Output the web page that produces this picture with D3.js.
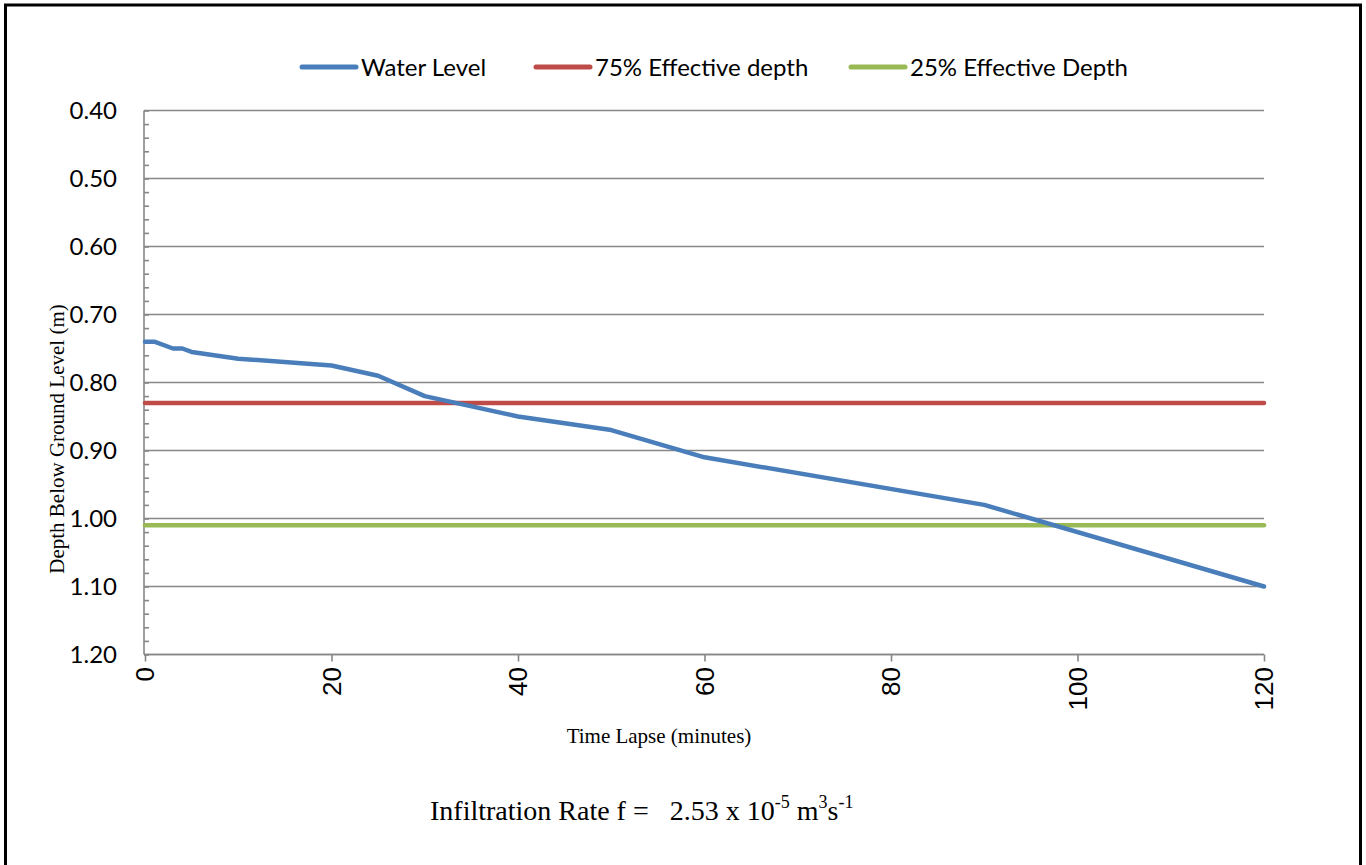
<!DOCTYPE html>
<html>
<head>
<meta charset="utf-8">
<script src="https://cdn.jsdelivr.net/npm/d3@7"></script>
<style>
body { margin: 0; background: #fff; }
</style>
</head>
<body>
<div id="chart"></div>
<script>
// ---------------------- data ---------------------
var timeMin = [0, 1, 3, 4, 5, 10, 20, 25, 30, 40, 50, 60, 90, 120];
var waterLevel = [0.74, 0.74, 0.75, 0.75, 0.755, 0.765, 0.775, 0.79, 0.82, 0.85, 0.87, 0.91, 0.98, 1.10];
var effTime = [0, 120];
var eff75 = [0.83, 0.83];
var eff25 = [1.01, 1.01];
var yTicks = [0.40, 0.50, 0.60, 0.70, 0.80, 0.90, 1.00, 1.10, 1.20];
var xTicks = [0, 20, 40, 60, 80, 100, 120];
var seriesNames = ["Water Level", "75% Effective depth", "25% Effective Depth"];
var seriesColors = ["#4a7ebb", "#be4b48", "#98b954"];

var W = 1366, H = 865;
var plotL = 145, plotR = 1264, plotT = 110.5, plotB = 654.5;

var svg = d3.select("#chart")
     .append("svg")
     .attr("width", W)
     .attr("height", H)
     .style("display", "block");

// outer frame
svg.append("rect")
     .attr("x", 5.5)
     .attr("y", 5)
     .attr("width", 1355)
     .attr("height", 900)
     .attr("fill", "none")
     .attr("stroke", "#000")
     .attr("stroke-width", 3);

var x = d3.scaleLinear().domain([0, 120]).range([plotL, plotR]);
var y = d3.scaleLinear().domain([0.40, 1.20]).range([plotT, plotB]);

// ---------------------- grid + axes ---------------------
svg.append("g")
     .selectAll("line")
     .data(yTicks)
     .enter()
     .append("line")
     .attr("x1", plotL - 1)
     .attr("x2", plotR)
     .attr("y1", function(d) { return y(d); })
     .attr("y2", function(d) { return y(d); })
     .attr("stroke", "#878787")
     .attr("stroke-width", 1.6);

// y axis with minor ticks pointing inward
var minor = d3.range(0.40, 1.2001, 0.02);
var yAxis = d3.axisRight(y)
     .tickValues(minor)
     .tickSize(5)
     .tickFormat("");
var gy = svg.append("g")
     .attr("transform", "translate(" + (plotL - 1) + ",0)")
     .call(yAxis);
gy.selectAll("path, line").attr("stroke", "#878787").attr("stroke-width", 1.6);
gy.select(".domain").attr("d", "M0," + plotT + "V" + plotB);

svg.append("g")
     .selectAll("text")
     .data(yTicks)
     .enter()
     .append("text")
     .text(function(d) { return d.toFixed(2); })
     .attr("x", 117)
     .attr("y", function(d) { return y(d); })
     .attr("dy", "0.36em")
     .attr("text-anchor", "end")
     .style("font-family", "Lato, 'Open Sans', sans-serif")
     .style("font-size", "24px")
     .attr("fill", "#000");

// x axis, ticks outward, rotated labels
var xAxis = d3.axisBottom(x)
     .tickValues(xTicks)
     .tickSize(7)
     .tickSizeOuter(0)
     .tickFormat("");
var gx = svg.append("g")
     .attr("transform", "translate(0," + plotB + ")")
     .call(xAxis);
gx.selectAll("path, line").attr("stroke", "#878787").attr("stroke-width", 1.6);
gx.select(".domain").attr("d", "M" + (plotL - 1) + ",0H" + plotR);

svg.append("g")
     .selectAll("text")
     .data(xTicks)
     .enter()
     .append("text")
     .text(function(d) { return d; })
     .attr("transform", function(d) { return "translate(" + x(d) + ",667) rotate(-90)"; })
     .attr("dy", "0.36em")
     .attr("text-anchor", "end")
     .style("font-family", "'Liberation Sans', Arial, sans-serif")
     .style("font-size", "26px")
     .attr("fill", "#000");

// ---------------------- series ---------------------
var line = d3.line()
     .x(function(d) { return x(d[0]); })
     .y(function(d) { return y(d[1]); });

var seriesData = [
     d3.zip(effTime, eff75),
     d3.zip(effTime, eff25),
     d3.zip(timeMin, waterLevel)
];
var seriesColorOrder = [seriesColors[1], seriesColors[2], seriesColors[0]];

svg.append("g")
     .selectAll("path")
     .data(seriesData)
     .enter()
     .append("path")
     .attr("d", line)
     .attr("fill", "none")
     .attr("stroke", function(d, i) { return seriesColorOrder[i]; })
     .attr("stroke-width", 4.5)
     .attr("stroke-linejoin", "round")
     .attr("stroke-linecap", "round");

// ---------------------- legend ---------------------
var legendX = [302, 536, 851];
var lg = svg.append("g")
     .selectAll("g")
     .data(seriesNames)
     .enter()
     .append("g")
     .attr("transform", function(d, i) { return "translate(" + legendX[i] + ",67)"; });
lg.append("line")
     .attr("x1", 0)
     .attr("x2", 54)
     .attr("stroke", function(d, i) { return seriesColors[i]; })
     .attr("stroke-width", 5)
     .attr("stroke-linecap", "round");
lg.append("text")
     .text(function(d) { return d; })
     .attr("x", 59)
     .attr("dy", "0.36em")
     .style("font-family", "Lato, 'Open Sans', sans-serif")
     .style("font-size", "24px")
     .attr("fill", "#000");

// ---------------------- axis titles ---------------------
svg.append("text")
     .text("Depth Below Ground Level (m)")
     .attr("transform", "translate(64,439) rotate(-90)")
     .attr("text-anchor", "middle")
     .style("font-family", "'Liberation Serif', 'Times New Roman', serif")
     .style("font-size", "21px")
     .attr("fill", "#000");

svg.append("text")
     .text("Time Lapse (minutes)")
     .attr("x", 659)
     .attr("y", 743)
     .attr("text-anchor", "middle")
     .style("font-family", "'Liberation Serif', 'Times New Roman', serif")
     .style("font-size", "21px")
     .attr("fill", "#000");

// ---------------------- infiltration note ---------------------
var note = svg.append("text")
     .attr("x", 430)
     .attr("y", 820)
     .style("font-family", "'Liberation Serif', 'Times New Roman', serif")
     .style("font-size", "28px")
     .attr("fill", "#000")
     .attr("xml:space", "preserve");
note.append("tspan").text("Infiltration Rate f =   2.53 x 10");
note.append("tspan").text("-5").attr("dy", -12).style("font-size", "18px");
note.append("tspan").text(" m").attr("dy", 12);
note.append("tspan").text("3").attr("dy", -12).style("font-size", "18px");
note.append("tspan").text("s").attr("dy", 12);
note.append("tspan").text("-1").attr("dy", -12).style("font-size", "18px");
</script>
</body>
</html>
